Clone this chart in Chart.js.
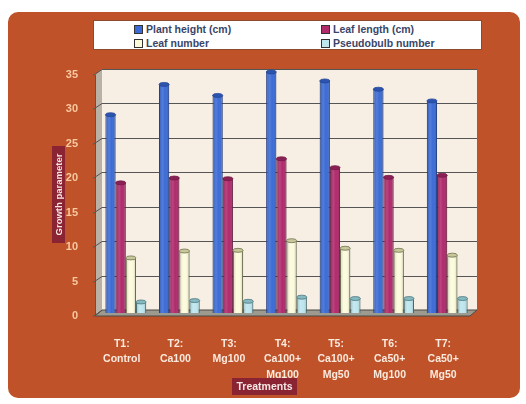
<!DOCTYPE html>
<html>
<head>
<meta charset="utf-8">
<title>Growth parameters by treatment</title>
<script src="https://cdn.jsdelivr.net/npm/chart.js@4.4.1/dist/chart.umd.min.js"></script>
<style>
  html, body { margin: 0; padding: 0; background: #fff; }
  #panel {
    position: absolute; left: 8px; top: 12px; width: 512px; height: 386px;
    background: #bf5229; border-radius: 10px;
  }
  #wrap { position: absolute; left: 0; top: 0; width: 526px; height: 404px; }
  #legend {
    position: absolute; left: 93px; top: 20px; width: 389px; height: 30px;
    background: #fff; border: 1px solid #8d4a2c; box-sizing: border-box;
    display: grid; grid-template-columns: 187px 160px; grid-auto-rows: 14px;
    padding-left: 40px; padding-top: 1px;
    font: bold 10.5px "Liberation Sans", Arial, sans-serif; color: #3a4568;
  }
  #legend .item { display: flex; align-items: center; white-space: nowrap; }
  #legend .box { width: 7px; height: 7px; border: 1px solid #333; margin-right: 3px; }
</style>
</head>
<body>
<div id="panel"></div>
<div id="legend"></div>
<div id="wrap"><canvas id="growthChart" width="526" height="404"></canvas></div>
<script>
// treatments and measured growth parameters
const treatments = [
  ['T1:', 'Control'],
  ['T2:', 'Ca100'],
  ['T3:', 'Mg100'],
  ['T4:', 'Ca100+', 'Mg100'],
  ['T5:', 'Ca100+', 'Mg50'],
  ['T6:', 'Ca50+', 'Mg100'],
  ['T7:', 'Ca50+', 'Mg50']
];
const plantHeight = [28.8, 33.2, 31.6, 35.0, 33.7, 32.5, 30.8];
const leafLength = [18.9, 19.6, 19.5, 22.4, 21.1, 19.7, 20.0];
const leafNumber = [8.0, 9.0, 9.1, 10.5, 9.4, 9.1, 8.4];
const pseudobulbNumber = [1.6, 1.8, 1.7, 2.3, 2.1, 2.1, 2.1];
const yTicks = [0, 5, 10, 15, 20, 25, 30, 35];

const seriesNames = ['Plant height (cm)', 'Leaf length (cm)', 'Leaf number', 'Pseudobulb number'];
const fills = ['#3b6bd6', '#b02a6c', '#fcfbdc', '#bde6ee'];
const edges = ['#26479a', '#761b48', '#6d7250', '#4d7a80'];
const caps = ['#2c54ad', '#8a2155', '#c9c79a', '#86b9c0'];

const DEPTH_X = 7, DEPTH_Y = -6;   // back wall offset
const BAR_X = 4, BAR_Y = -3;       // bars sit halfway into the box

// walls, floor and gridlines of the 3D box, then shift bars into it
const box3d = {
  id: 'box3d',
  beforeDatasetsDraw(chart) {
    const { ctx, chartArea: a } = chart;
    const yScale = chart.scales.y;
    ctx.save();
    // back wall
    ctx.fillStyle = '#f7efe4';
    ctx.fillRect(a.left + DEPTH_X, a.top + DEPTH_Y, a.right - a.left, a.bottom - a.top);
    // side wall
    ctx.fillStyle = '#b9b0a6';
    ctx.beginPath();
    ctx.moveTo(a.left, a.top);
    ctx.lineTo(a.left + DEPTH_X, a.top + DEPTH_Y);
    ctx.lineTo(a.left + DEPTH_X, a.bottom + DEPTH_Y);
    ctx.lineTo(a.left, a.bottom);
    ctx.closePath();
    ctx.fill();
    // floor
    ctx.fillStyle = '#9d9a90';
    ctx.beginPath();
    ctx.moveTo(a.left, a.bottom);
    ctx.lineTo(a.left + DEPTH_X, a.bottom + DEPTH_Y);
    ctx.lineTo(a.right + DEPTH_X, a.bottom + DEPTH_Y);
    ctx.lineTo(a.right, a.bottom);
    ctx.closePath();
    ctx.fill();
    ctx.strokeStyle = '#4a4a44';
    ctx.lineWidth = 1;
    ctx.stroke();
    // gridlines on back wall + slanted marks on side wall
    ctx.strokeStyle = '#555';
    yTicks.forEach(v => {
      const y = Math.round(yScale.getPixelForValue(v)) + 0.5;
      ctx.beginPath();
      if (v > 0) {
        ctx.moveTo(a.left + DEPTH_X, y + DEPTH_Y);
        ctx.lineTo(a.right + DEPTH_X, y + DEPTH_Y);
      }
      ctx.moveTo(a.left - 2, y);
      ctx.lineTo(a.left + DEPTH_X, y + DEPTH_Y);
      ctx.stroke();
    });
    ctx.beginPath();
    ctx.moveTo(a.left + 0.5, a.top);
    ctx.lineTo(a.left + 0.5, a.bottom);
    ctx.stroke();
    ctx.restore();

    ctx.save();
    ctx.translate(BAR_X, BAR_Y);
  },
  afterDatasetsDraw(chart) {
    const { ctx } = chart;
    chart.data.datasets.forEach((ds, i) => {
      chart.getDatasetMeta(i).data.forEach(bar => {
        const half = bar.width / 2;
        // rounded shading across the column
        const g = ctx.createLinearGradient(bar.x - half, 0, bar.x + half, 0);
        g.addColorStop(0, 'rgba(0,0,0,0.18)');
        g.addColorStop(0.35, 'rgba(255,255,255,0.12)');
        g.addColorStop(0.6, 'rgba(255,255,255,0)');
        g.addColorStop(1, 'rgba(0,0,0,0.2)');
        ctx.fillStyle = g;
        ctx.fillRect(bar.x - half, bar.y, bar.width, bar.base - bar.y);
        // top cap
        ctx.beginPath();
        ctx.ellipse(bar.x, bar.y, half, 2, 0, 0, Math.PI * 2);
        ctx.fillStyle = caps[i];
        ctx.fill();
        ctx.strokeStyle = edges[i];
        ctx.lineWidth = 0.8;
        ctx.stroke();
      });
    });
    ctx.restore();
  },
  afterDraw(chart) {
    const { ctx } = chart;
    ctx.save();
    ctx.font = 'bold 9.5px "Liberation Sans", Arial, sans-serif';
    ctx.textAlign = 'center';
    ctx.textBaseline = 'middle';
    // y axis title
    ctx.fillStyle = '#8a2433';
    ctx.fillRect(52, 146, 13, 97);
    ctx.translate(58.5, 194.5);
    ctx.rotate(-Math.PI / 2);
    ctx.fillStyle = '#f6e6e6';
    ctx.fillText('Growth parameter', 0, 1);
    ctx.restore();
    // x axis title
    ctx.save();
    ctx.font = 'bold 10.5px "Liberation Sans", Arial, sans-serif';
    ctx.textAlign = 'center';
    ctx.textBaseline = 'middle';
    ctx.fillStyle = '#8a2433';
    ctx.fillRect(232, 378, 65, 17);
    ctx.fillStyle = '#f6e6e6';
    ctx.fillText('Treatments', 264.5, 387);
    ctx.restore();
  }
};

const seriesValues = [plantHeight, leafLength, leafNumber, pseudobulbNumber];

new Chart(document.getElementById('growthChart'), {
  type: 'bar',
  data: {
    labels: treatments,
    datasets: seriesValues.map((vals, i) => ({
      label: seriesNames[i],
      data: vals,
      backgroundColor: fills[i],
      borderColor: edges[i],
      borderWidth: 1,
      clip: false
    }))
  },
  options: {
    responsive: false,
    animation: false,
    devicePixelRatio: 1,
    categoryPercentage: 0.76,
    barPercentage: 1,
    layout: { padding: { top: 75, right: 56, bottom: 0, left: 0 } },
    plugins: {
      legend: { display: false },
      tooltip: { enabled: false }
    },
    scales: {
      x: {
        grid: { display: false },
        border: { display: false },
        ticks: {
          color: '#fbeade',
          padding: 12,
          maxRotation: 0,
          autoSkip: false,
          font: { family: '"Liberation Sans", Arial, sans-serif', size: 10.5, weight: 'bold', lineHeight: 1.48 }
        },
        afterFit(scale) { scale.height = 88; }
      },
      y: {
        min: 0,
        max: 35,
        grid: { display: false },
        border: { display: false },
        ticks: {
          stepSize: 5,
          color: '#f8c9a0',
          padding: 9,
          font: { family: '"Liberation Sans", Arial, sans-serif', size: 11, weight: 'bold' }
        },
        afterFit(scale) { scale.width = 95; }
      }
    }
  },
  plugins: [box3d]
});

// legend box built from the series names
const legend = document.getElementById('legend');
seriesNames.forEach((name, i) => {
  const item = document.createElement('div');
  item.className = 'item';
  item.innerHTML = '<span class="box" style="background:' + fills[i] + '"></span>' + name;
  legend.appendChild(item);
});
</script>
</body>
</html>
